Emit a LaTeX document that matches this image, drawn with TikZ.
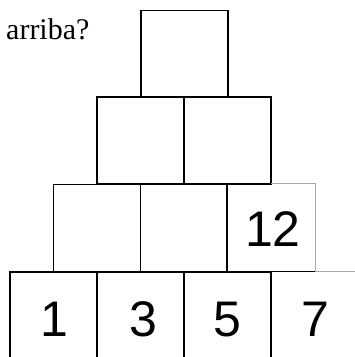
\documentclass[tikz,border=0pt]{standalone}
\usepackage{fontspec}
\setmainfont{Liberation Serif}
\newfontfamily\numfont{Liberation Sans}
\begin{document}
\begin{tikzpicture}[x=1pt,y=1pt,
  cell/.style={draw=black, line width=1.4pt, minimum width=87pt, minimum height=87pt, inner sep=0pt},
  lowcell/.style={cell, minimum height=120pt},
  num/.style={anchor=base, inner sep=0pt, font=\numfont\fontsize{50}{50}\selectfont},
  faint/.style={draw=gray!70, line width=0.9pt}]
\useasboundingbox (0,0) rectangle (355,357);
\clip (0,0) rectangle (355,357);
% top
\node[cell] (t) at (184.5,303) {};
% row 2
\node[cell] (b1) at (140.5,216.5) {};
\node[cell] (b2) at (227.5,216.5) {};
% row 3
\node[cell] (c1) at (97,129) {};
\node[cell] (c2) at (184,129) {};
\node[cell, draw=none] (c3) at (271,129) {};
% row 4 (boxes run past the lower edge)
\node[lowcell] (d1) at (53.5,25) {};
\node[lowcell] (d2) at (140.5,25) {};
\node[lowcell] (d3) at (227.5,25) {};
\node[lowcell, draw=none] (d4) at (314.5,25) {};
% numbers
\node[num] (n12) at (273,110.5) {12};
\node[num] (n1) at (54,20.5) {1};
\node[num] (n3) at (143.5,20.5) {3};
\node[num] (n5) at (227.5,20.5) {5};
\node[num] (n7) at (315,20.5) {7};
% faint / partial edges
\draw[line width=1.4pt] (c3.south west) -- (c3.north west) -- (c3.north);
\draw[faint] (c3.north) -- (c3.north east) -- (c3.south east);
\draw[line width=1.4pt] (d4.north west) -- (d4.north);
\draw[faint] (d4.north) -- (d4.north east);
\node[anchor=base west, inner sep=0pt, font=\fontsize{30}{30}\selectfont] (q) at (6,317) {arriba?};
\end{tikzpicture}
\end{document}
